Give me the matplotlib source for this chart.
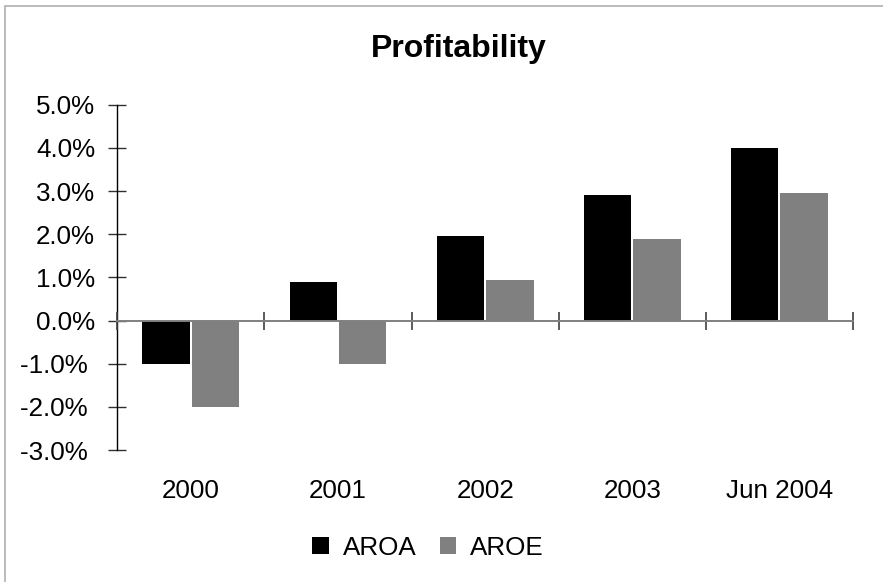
import matplotlib
matplotlib.use("Agg")
import matplotlib.pyplot as plt
import numpy as np
from matplotlib.patches import Rectangle
from matplotlib.ticker import FuncFormatter

# data (percent)
years = ["2000", "2001", "2002", "2003", "Jun 2004"]
aroa = [-1.0, 0.9, 1.95, 2.9, 4.0]
aroe = [-2.0, -1.0, 0.95, 1.9, 2.95]
y_ticks = [-3, -2, -1, 0, 1, 2, 3, 4, 5]

plt.rcParams['font.family'] = ['Liberation Sans', 'DejaVu Sans']

W, H = 883, 582
fig = plt.figure(figsize=(W / 100, H / 100), dpi=100)
ax = fig.add_axes([117.3 / W, 1 - 450 / H, (853 - 117.3) / W, (450 - 104.7) / H])

x = np.arange(len(years))
w = 0.323
ax.bar(x - 0.168, aroa, w, color="black", label="AROA", zorder=3)
ax.bar(x + 0.168, aroe, w, color="#808080", label="AROE", zorder=3)

ax.set_xlim(-0.5, len(years) - 0.5)
ax.set_ylim(-3, 5)

for s in ["top", "right", "bottom"]:
    ax.spines[s].set_visible(False)
ax.spines["left"].set_color("black")
ax.spines["left"].set_linewidth(1.0)


def pct(v, p):
    # negative values carry a trailing space like the original number format
    if v < 0:
        return "%.1f%% " % v
    return "%.1f%%" % v


ax.set_yticks(y_ticks)
ax.yaxis.set_major_formatter(FuncFormatter(pct))
ax.tick_params(axis="y", direction="inout", length=13, width=1.0, color="#303030",
               pad=9.5, labelsize=18.7)

# category labels at the bottom, no tick marks there
ax.set_xticks(x)
ax.set_xticklabels(years)
ax.tick_params(axis="x", length=0, pad=21, labelsize=18.7)

# zero line with category boundary ticks
zero = ax.secondary_xaxis(3 / 8)
zero.spines["bottom"].set_color("#808080")
zero.spines["bottom"].set_linewidth(1.4)
zero.set_xticks(np.arange(len(years) + 1) - 0.5)
zero.set_xticklabels([])
zero.tick_params(axis="x", direction="inout", length=13, width=1.2, color="#404040")
zero.set_zorder(4)

fig.text(459 / W, 1 - 57 / H, "Profitability", ha="center", va="baseline",
         fontsize=23, fontweight="bold")

fig.legend(loc="center", bbox_to_anchor=(428 / W, 1 - 548 / H), ncol=2, frameon=False,
           fontsize=18.7, handlelength=0.64, handleheight=0.64, handletextpad=0.53,
           columnspacing=0.9)

# light frame around the chart area (only top and left edges show)
fig.add_artist(Rectangle((4.5 / W, -0.1), 2, 1.1 - 6 / H, transform=fig.transFigure,
                         fill=False, edgecolor="#b0b0b0", linewidth=1.2))

fig.savefig("out.png", dpi=100)
